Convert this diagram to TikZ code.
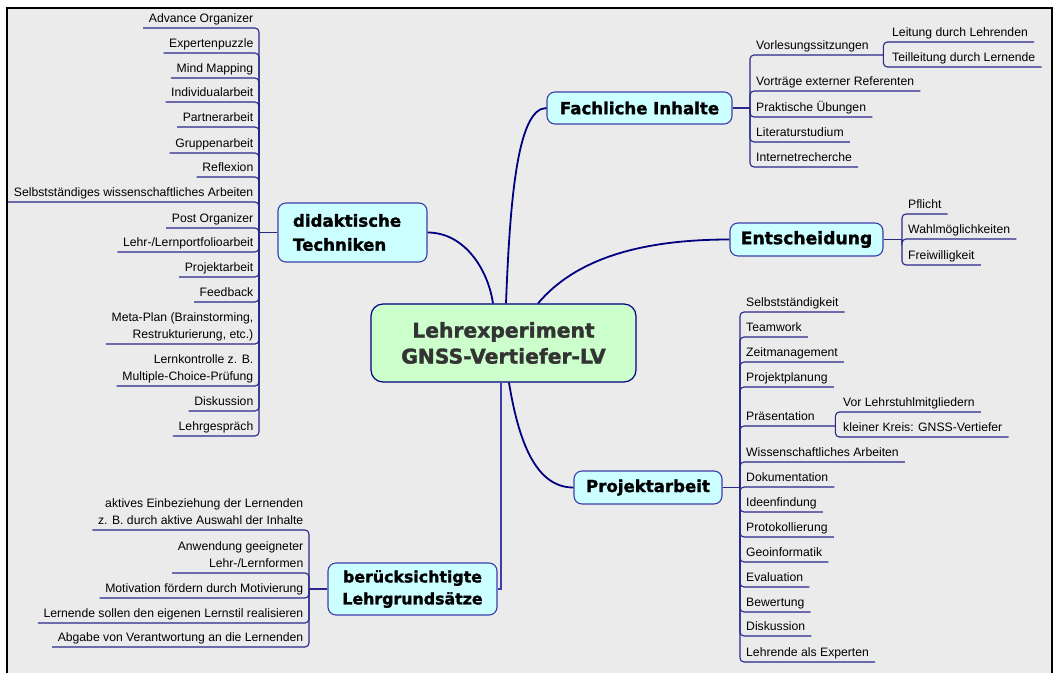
\documentclass[tikz,border=0pt]{standalone}
\usepackage{fontspec}
\setmainfont{Liberation Sans}
\newfontfamily\topicfont{DejaVu Sans}[BoldFeatures={FakeBold=1.6}]
\usepackage{tikz}

\definecolor{bggrey}{RGB}{235,235,235}
\definecolor{topicfill}{RGB}{204,255,255}
\definecolor{centrefill}{RGB}{204,255,204}
\definecolor{navy}{RGB}{0,0,128}
\definecolor{leafblue}{RGB}{40,40,140}
\definecolor{boxblue}{RGB}{60,60,170}
\definecolor{darktext}{RGB}{51,51,51}

\tikzset{
	elbow/.style = {to path={|- (\tikztotarget)}},
	twig/.style 2 args = {to path={.. controls #1 and #2 .. (\tikztotarget)}}
}

\begin{document}
\begin{tikzpicture}[x=1pt, y=-1pt]
	\useasboundingbox (0,0) rectangle (1058,673);
	\fill[white] (0,0) rectangle (1058,673);
	\fill[bggrey] (7,8) rectangle (1052,673);
	\draw[line width=1.2pt] (7,673) -- (7,8) -- (1052,8) -- (1052,673);

	\begin{scope}[every node/.style = {draw=navy, line width=1.2pt, rounded corners=12pt, fill=centrefill,
			text=darktext, align=center, minimum width=265pt, minimum height=78pt,
			font=\topicfont\bfseries\fontsize{20.3}{26}\selectfont}]
		\node (LV) at (503.5,343) {Lehrexperiment\\GNSS-Vertiefer-LV};
	\end{scope}
	\begin{scope}[every node/.style = {draw=boxblue, line width=1.1pt, rounded corners=8pt, fill=topicfill,
			inner sep=0pt, font=\topicfont\bfseries\fontsize{16.6}{24}\selectfont}]
		\node[minimum width=185pt, minimum height=32pt] (FI) at (639.5,108) {Fachliche Inhalte};
		\node[minimum width=153pt, minimum height=33pt, font=\topicfont\bfseries\fontsize{17.2}{24}\selectfont] (EN) at (806.5,239.5) {Entscheidung};
		\node[minimum width=148pt, minimum height=33pt] (PA) at (648,487.5) {Projektarbeit};
		\node[text width=119pt, inner xsep=15pt, minimum height=59pt, align=left] (DT) at (352.5,232.5) {didaktische\\Techniken};
		\node[minimum width=169pt, minimum height=52pt, align=center,
			font=\topicfont\bfseries\fontsize{15.8}{22}\selectfont] (BL) at (412.5,589) {berücksichtigte\\Lehrgrundsätze};
	\end{scope}

	% left hand leaves
	\begin{scope}[every node/.style = {font=\fontsize{12.2}{17}\selectfont, inner xsep=5.5pt, inner ysep=2.5pt,
			text depth=3pt, anchor=south east, align=right}]
		\node (D1) at (259,28) {Advance Organizer};
		\node (D2) at (259,53) {Expertenpuzzle};
		\node (D3) at (259,78) {Mind Mapping};
		\node (D4) at (259,102) {Individualarbeit};
		\node (D5) at (259,127) {Partnerarbeit};
		\node (D6) at (259,153) {Gruppenarbeit};
		\node (D7) at (259,177) {Reflexion};
		\node (D8) at (259,202) {Selbstständiges wissenschaftliches Arbeiten};
		\node (D9) at (259,228) {Post Organizer};
		\node (D10) at (259,252) {Lehr-/Lernportfolioarbeit};
		\node (D11) at (259,277) {Projektarbeit};
		\node (D12) at (259,302) {Feedback};
		\node (D13) at (259,344) {Meta-Plan (Brainstorming,\\Restrukturierung, etc.)};
		\node (D14) at (259,386) {Lernkontrolle z. B.\\Multiple-Choice-Prüfung};
		\node (D15) at (259,411) {Diskussion};
		\node (D16) at (259,436) {Lehrgespräch};

		\node (B1) at (309,530) {aktives Einbeziehung der Lernenden\\z. B. durch aktive Auswahl der Inhalte};
		\node (B2) at (309,573) {Anwendung geeigneter\\Lehr-/Lernformen};
		\node (B3) at (309,598) {Motivation fördern durch Motivierung};
		\node (B4) at (309,623) {Lernende sollen den eigenen Lernstil realisieren};
		\node (B5) at (309,647) {Abgabe von Verantwortung an die Lernenden};
	\end{scope}

	% right hand leaves
	\begin{scope}[every node/.style = {font=\fontsize{12.2}{17}\selectfont, inner xsep=6pt, inner ysep=2.5pt,
			text depth=3pt, anchor=south west, align=left}]
		\node[text width=121pt] (F1) at (750,55) {Vorlesungssitzungen};
		\node (F2) at (750,91) {Vorträge externer Referenten};
		\node (F3) at (750,117) {Praktische Übungen};
		\node (F4) at (750,142) {Literaturstudium};
		\node (F5) at (750,167) {Internetrecherche};
		\node (F11) at (886,42) {Leitung durch Lehrenden};
		\node (F12) at (886,67) {Teilleitung durch Lernende};

		\node (E1) at (902,214) {Pflicht};
		\node (E2) at (902,239) {Wahlmöglichkeiten};
		\node (E3) at (902,265) {Freiwilligkeit};

		\node (P1) at (740,312) {Selbstständigkeit};
		\node (P2) at (740,337) {Teamwork};
		\node (P3) at (740,362) {Zeitmanagement};
		\node (P4) at (740,387) {Projektplanung};
		\node[text width=83pt] (P5) at (740,426) {Präsentation};
		\node (P6) at (740,462) {Wissenschaftliches Arbeiten};
		\node (P7) at (740,487) {Dokumentation};
		\node (P8) at (740,512) {Ideenfindung};
		\node (P9) at (740,537) {Protokollierung};
		\node (P10) at (740,562) {Geoinformatik};
		\node (P11) at (740,587) {Evaluation};
		\node (P12) at (740,612) {Bewertung};
		\node (P13) at (740,636) {Diskussion};
		\node (P14) at (740,662) {Lehrende als Experten};
		\node (P51) at (837,412) {Vor Lehrstuhlmitgliedern};
		\node (P52) at (837,437) {kleiner Kreis: GNSS-Vertiefer};
	\end{scope}

	\coordinate (dtb) at (259,232.5);
	\coordinate (blb) at (309,589);
	\coordinate (fib) at (750,108);
	\coordinate (enb) at (902,239.5);
	\coordinate (pab) at (740,487.5);

	% main branches
	\begin{scope}[every edge/.style={draw=navy, line width=1.8pt}]
		\path ([xshift=2.5pt]LV.north) edge[twig={+(4,-104)}{+(-29,0)}] (FI.west);
		\path ([xshift=-10.5pt]LV.north) edge[twig={+(-5,-34)}{+(37,0)}] (DT.east);
		\path ([xshift=34.5pt]LV.north) edge[twig={+(37,-44)}{+(-90,0)}] (EN.west);
		\path ([xshift=5.5pt]LV.south) edge[twig={+(11,68)}{+(-34,0)}] (PA.west);
	\end{scope}
	\path[draw=boxblue, line width=1.2pt] ([xshift=-2.5pt]LV.south) edge[elbow] (BL.east);

	% leaf connectors
	\begin{scope}[every edge/.style={draw=leafblue, line width=1.1pt, rounded corners=4pt}]
		\path (DT.west) edge (dtb);
		\path (BL.west) edge (blb);
		\path (FI.east) edge (fib);
		\path (EN.east) edge (enb);
		\path (PA.east) edge (pab);

		\path (dtb) edge[elbow] (D1.south west) edge[elbow] (D2.south west) edge[elbow] (D3.south west)
			edge[elbow] (D4.south west) edge[elbow] (D5.south west) edge[elbow] (D6.south west)
			edge[elbow] (D7.south west) edge[elbow] (D8.south west) edge[elbow] (D9.south west)
			edge[elbow] (D10.south west) edge[elbow] (D11.south west) edge[elbow] (D12.south west)
			edge[elbow] (D13.south west) edge[elbow] (D14.south west) edge[elbow] (D15.south west)
			edge[elbow] (D16.south west);
		\path (blb) edge[elbow] (B1.south west) edge[elbow] (B2.south west) edge[elbow] (B3.south west)
			edge[elbow] (B4.south west) edge[elbow] (B5.south west);
		\path (fib) edge[elbow] (F1.south east) edge[elbow] (F2.south east) edge[elbow] (F3.south east)
			edge[elbow] (F4.south east) edge[elbow] (F5.south east);
		\path (F1.south east) edge[elbow] (F11.south east) edge[elbow] (F12.south east);
		\path (enb) edge[elbow] (E1.south east) edge[elbow] (E2.south east) edge[elbow] (E3.south east);
		\path (pab) edge[elbow] (P1.south east) edge[elbow] (P2.south east) edge[elbow] (P3.south east)
			edge[elbow] (P4.south east) edge[elbow] (P5.south east) edge[elbow] (P6.south east)
			edge[elbow] (P7.south east) edge[elbow] (P8.south east) edge[elbow] (P9.south east)
			edge[elbow] (P10.south east) edge[elbow] (P11.south east) edge[elbow] (P12.south east)
			edge[elbow] (P13.south east) edge[elbow] (P14.south east);
		\path (P5.south east) edge[elbow] (P51.south east) edge[elbow] (P52.south east);
	\end{scope}
\end{tikzpicture}
\end{document}
